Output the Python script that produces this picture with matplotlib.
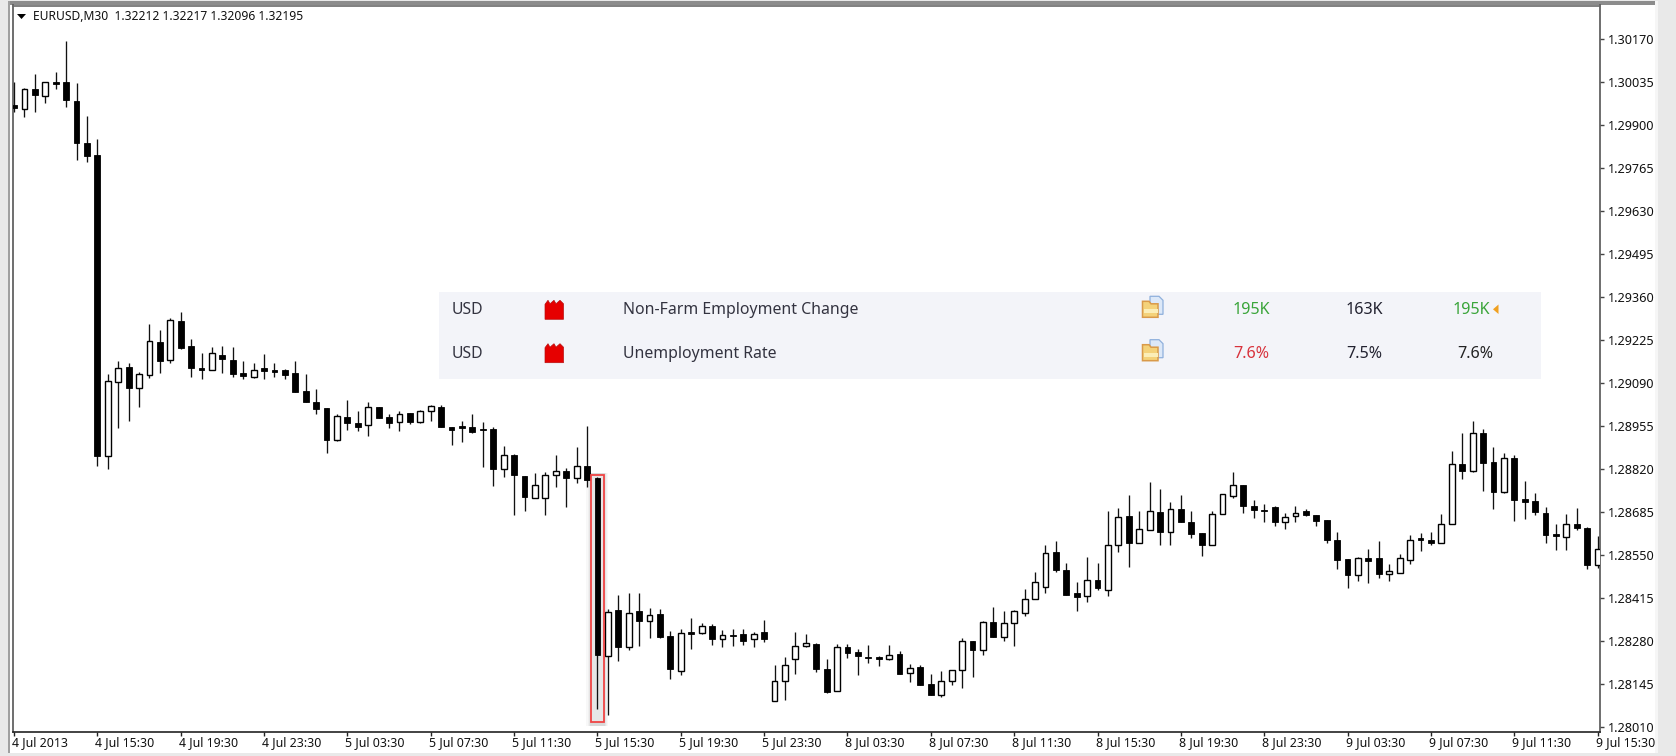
import matplotlib
matplotlib.use("Agg")
import matplotlib.pyplot as plt
from matplotlib.patches import Polygon, Rectangle

# prices are kept as points above 1.28000 (1 point = 0.00001)
BASE = 1.28
POINT = 0.00001

opens = [1962, 1949, 2012, 1991, 2033, 2033, 1975, 1844, 1805, 860,
         1093, 1140, 1074, 1114, 1218, 1161, 1283, 1206, 1137, 1129,
         1177, 1161, 1121, 1108, 1137, 1129, 1129, 1121, 1063, 1030,
         1010, 910, 981, 964, 956, 1013, 981, 967, 994, 968,
         1001, 1015, 952, 953, 952, 945, 945, 820, 863, 797,
         727, 727, 800, 814, 792, 830, 790, 232, 376, 259,
         372, 341, 363, 294, 186, 306, 303, 327, 284, 299,
         302, 285, 306, 92, 154, 224, 264, 271, 192, 121,
         261, 244, 230, 229, 222, 237, 178, 196, 143, 111,
         154, 187, 278, 252, 339, 293, 334, 367, 412, 450,
         559, 502, 430, 419, 469, 440, 580, 670, 588, 629,
         683, 620, 694, 654, 617, 579, 678, 734, 768, 704,
         691, 701, 653, 670, 686, 675, 659, 597, 535, 485,
         540, 540, 488, 493, 533, 602, 597, 588, 645, 835,
         812, 932, 842, 746, 855, 724, 720, 682, 614, 604,
         645, 634, 518]
closes = [1951, 2012, 1993, 2033, 2027, 1977, 1841, 1801, 859, 1096,
          1137, 1074, 1117, 1221, 1159, 1288, 1199, 1135, 1130, 1182,
          1164, 1117, 1111, 1131, 1127, 1123, 1114, 1060, 1028, 1007,
          910, 986, 964, 951, 1013, 980, 964, 993, 968, 1001,
          1017, 952, 942, 948, 935, 940, 820, 862, 800, 730,
          768, 801, 814, 792, 829, 783, 235, 371, 259, 368,
          341, 362, 291, 191, 305, 301, 326, 284, 298, 295,
          280, 301, 284, 154, 203, 264, 274, 190, 120, 261,
          242, 231, 227, 222, 236, 177, 195, 141, 111, 154,
          187, 278, 252, 339, 293, 334, 372, 412, 465, 555,
          502, 423, 416, 469, 444, 580, 669, 588, 630, 686,
          620, 694, 654, 615, 582, 678, 740, 768, 702, 689,
          686, 652, 669, 682, 674, 657, 595, 533, 485, 541,
          530, 488, 498, 540, 596, 595, 587, 645, 834, 813,
          931, 837, 747, 855, 722, 715, 685, 613, 608, 645,
          635, 518, 567]
highs = [2035, 2014, 2058, 2035, 2066, 2164, 2030, 1927, 1854, 1117,
         1158, 1153, 1124, 1273, 1257, 1294, 1313, 1227, 1182, 1203,
         1206, 1203, 1158, 1152, 1179, 1153, 1132, 1158, 1117, 1069,
         1012, 993, 1035, 1002, 1030, 1014, 993, 1001, 996, 1004,
         1019, 1020, 952, 970, 991, 966, 952, 892, 866, 798,
         805, 810, 864, 822, 888, 954, 795, 381, 425, 430,
         430, 383, 380, 311, 318, 352, 336, 331, 315, 318,
         318, 306, 345, 205, 230, 306, 300, 272, 224, 269,
         269, 253, 266, 233, 266, 249, 208, 204, 175, 185,
         188, 290, 278, 342, 385, 372, 375, 442, 496, 581,
         594, 525, 463, 542, 524, 688, 696, 736, 688, 777,
         757, 716, 736, 688, 618, 688, 741, 811, 769, 721,
         708, 703, 682, 704, 695, 676, 659, 622, 536, 544,
         569, 593, 520, 552, 613, 618, 622, 679, 876, 933,
         971, 946, 888, 868, 863, 781, 745, 699, 646, 679,
         697, 636, 609]
lows = [1941, 1925, 1941, 1969, 2011, 1956, 1789, 1784, 828, 819,
        949, 970, 1014, 1106, 1121, 1152, 1195, 1108, 1101, 1129,
        1122, 1108, 1101, 1106, 1101, 1108, 1103, 1060, 1028, 993,
        868, 906, 943, 938, 922, 980, 949, 938, 960, 962,
        971, 950, 893, 905, 931, 826, 766, 795, 676, 688,
        727, 676, 761, 701, 774, 761, 65, 46, 217, 250,
        263, 287, 289, 161, 172, 255, 301, 267, 259, 263,
        267, 259, 275, 92, 95, 174, 261, 181, 117, 121,
        227, 173, 211, 201, 219, 175, 149, 141, 108, 103,
        140, 132, 165, 235, 291, 279, 263, 357, 412, 431,
        497, 422, 374, 402, 439, 419, 557, 512, 588, 629,
        582, 579, 652, 601, 546, 579, 678, 727, 680, 664,
        652, 639, 632, 652, 673, 639, 588, 504, 446, 467,
        460, 476, 467, 493, 522, 561, 582, 588, 645, 787,
        809, 750, 692, 743, 656, 661, 676, 586, 566, 566,
        628, 504, 509]

x_tick_labels = ["4 Jul 2013", "4 Jul 15:30", "4 Jul 19:30", "4 Jul 23:30",
                 "5 Jul 03:30", "5 Jul 07:30", "5 Jul 11:30", "5 Jul 15:30",
                 "5 Jul 19:30", "5 Jul 23:30", "8 Jul 03:30", "8 Jul 07:30",
                 "8 Jul 11:30", "8 Jul 15:30", "8 Jul 19:30", "8 Jul 23:30",
                 "9 Jul 03:30", "9 Jul 07:30", "9 Jul 11:30", "9 Jul 15:30"]
y_ticks = [1.28010, 1.28145, 1.28280, 1.28415, 1.28550, 1.28685, 1.28820, 1.28955, 1.29090,
           1.29225, 1.29360, 1.29495, 1.29630, 1.29765, 1.29900, 1.30035, 1.30170]

events = ["Non-Farm Employment Change", "Unemployment Rate"]
actual = ["195K", "7.6%"]
forecast = ["163K", "7.5%"]
previous = ["195K", "7.6%"]
actual_colors = ["#3aa53a", "#d8323c"]
previous_colors = ["#3aa53a", "#222222"]

W, H = 1676, 756
FONT = "Noto Sans"

fig = plt.figure(figsize=(W / 100, H / 100), dpi=100, facecolor="#e9e9e9")

# overlay in pixel coordinates for the header and the news panel
ov = fig.add_axes([0, 0, 1, 1], zorder=3)
ov.set_xlim(0, W)
ov.set_ylim(H, 0)
ov.axis("off")
ov.patch.set_alpha(0)

bg = fig.add_axes([0, 0, 1, 1], zorder=0)
bg.set_xlim(0, W)
bg.set_ylim(H, 0)
bg.axis("off")
bg.add_patch(Rectangle((8, 3), 1647, 750, fc="white", ec="none"))
bg.add_patch(Rectangle((8, 1), 1647, 4, fc="#8c8c8c", ec="none"))
bg.add_patch(Rectangle((8, 1), 1.5, 752, fc="#a0a0a0", ec="none"))
bg.add_patch(Rectangle((1655, 1), 2.5, 752, fc="#f6f6f6", ec="none"))

# main price axes
left, right, top, bottom = 12.7, 1599.7, 5.5, 731.7
ax = fig.add_axes([left / W, 1 - bottom / H, (right - left) / W, (bottom - top) / H], zorder=1)
ax.patch.set_alpha(0)
ax.set_xlim(-0.125, 152.2)
ax.set_ylim(1.279943, 1.302742)
ax.spines["top"].set_color("#6a6a6a")
ax.spines["left"].set_color("#555555")
ax.spines["right"].set_color("#555555")
ax.spines["bottom"].set_color("#222222")
for name in ["top", "left", "right", "bottom"]:
    ax.spines[name].set_linewidth(1.2)
ax.yaxis.tick_right()

# highlighted candle behind the bars
hl_low, hl_high = BASE + 26 * POINT, BASE + 801 * POINT
for grow, alpha in [(1.05, 0.05), (0.92, 0.07), (0.8, 0.1), (0.7, 0.12)]:
    ax.add_patch(Rectangle((56 - grow, hl_low - 0.00014), grow * 2, hl_high - hl_low + 0.0002,
                           fc="#888888", ec="none", alpha=alpha, zorder=1))
ax.add_patch(Rectangle((56 - 0.63, hl_low), 1.26, hl_high - hl_low, fc="#e6e6e6", ec="none", zorder=1.5))

for i in range(len(opens)):
    o = BASE + opens[i] * POINT
    c = BASE + closes[i] * POINT
    h = BASE + highs[i] * POINT
    l = BASE + lows[i] * POINT
    ax.vlines(i, l, h, color="#111111", linewidth=0.95, zorder=2)
    if c < o:
        ax.bar(i, o - c, bottom=c, width=0.56, color="black", edgecolor="black", linewidth=0.6, zorder=3)
    else:
        ax.bar(i, c - o, bottom=o, width=0.56, color="white", edgecolor="black", linewidth=1.0, zorder=3)

ax.add_patch(Rectangle((56 - 0.63, hl_low), 1.26, hl_high - hl_low, fc="none", ec="#f04545", lw=1.3, zorder=4))

ax.set_xticks(range(0, 153, 8))
ax.set_xticklabels(x_tick_labels, ha="left", fontsize=8.9, family=FONT, color="#111111")
ax.set_yticks(y_ticks)
ax.set_yticklabels(["%.5f" % v for v in y_ticks], fontsize=9.1, family=FONT, color="#111111")
ax.tick_params(axis="x", length=3, width=1, color="#222222", pad=0.4)
ax.tick_params(axis="y", length=3.2, width=1, color="#444444", pad=3)
shift = matplotlib.transforms.ScaledTranslation(-2 / 100, 0, fig.dpi_scale_trans)
for lab in ax.get_xticklabels():
    lab.set_transform(lab.get_transform() + shift)

# header
ov.add_patch(Polygon([(17, 14), (26, 14), (21.5, 19)], closed=True, fc="black", ec="none"))
ov.text(33, 16, "EURUSD,M30  1.32212 1.32217 1.32096 1.32195", fontsize=8.7, family=FONT, color="#111111", va="center")

# news panel
ov.add_patch(Rectangle((439, 292), 1102, 87, fc="#f3f4f9", ec="none"))
row_y = [310.3, 353.7]


def factory_icon(y):
    pts = [(545, y + 9), (545, y - 6), (548, y - 10), (550, y - 6.5), (554, y - 10), (556, y - 6.5),
           (560, y - 10), (563.5, y - 6.5), (563.5, y + 9)]
    ov.add_patch(Polygon(pts, closed=True, fc="#e60000", ec="#b81010", lw=0.5))


def folder_icon(y):
    ov.add_patch(Polygon([(1150, y - 13), (1159, y - 13), (1163, y - 9), (1163, y + 5), (1150, y + 5)],
                         closed=True, fc="#dce8f8", ec="#8fb0dc", lw=0.9))
    ov.add_patch(Polygon([(1142.5, y - 8), (1149, y - 8), (1151, y - 5.5), (1158, y - 5.5), (1158, y + 8), (1142.5, y + 8)],
                         closed=True, fc="#f4d27a", ec="#d99a4a", lw=1.1))
    ov.add_patch(Rectangle((1143.5, y), 14, 4, fc="#fbeeb8", ec="none"))


for k in range(2):
    y = row_y[k]
    ov.text(452, y, "USD", fontsize=11.4, family=FONT, color="#333340", va="center")
    factory_icon(y)
    ov.text(623, y, events[k], fontsize=11.4, family=FONT, color="#333340", va="center")
    folder_icon(y - 1)
    ov.text(1251, y, actual[k], fontsize=11.6, family=FONT, color=actual_colors[k], va="center", ha="center")
    ov.text(1364, y, forecast[k], fontsize=11.6, family=FONT, color="#222230", va="center", ha="center")
    ov.text(1471 + k * 4, y, previous[k], fontsize=11.6, family=FONT, color=previous_colors[k], va="center", ha="center")

ov.add_patch(Polygon([(1493, 309.3), (1498.5, 304.5), (1498.5, 314)], closed=True, fc="#f0a020", ec="none"))

fig.savefig("out.png", dpi=100, facecolor=fig.get_facecolor())
